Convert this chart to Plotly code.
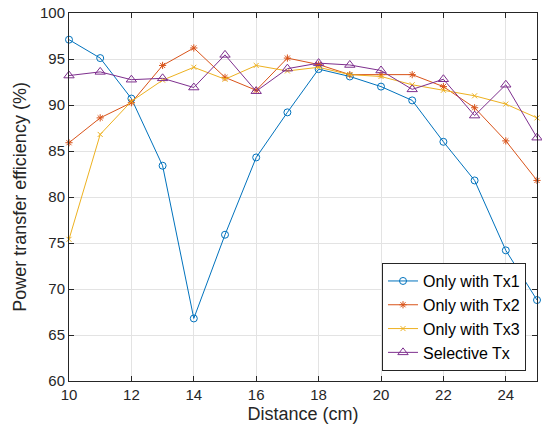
import plotly.graph_objects as go

distance = [10, 11, 12, 13, 14, 15, 16, 17, 18, 19, 20, 21, 22, 23, 24, 25]
tx1 = [97.1, 95.1, 90.7, 83.4, 66.8, 75.9, 84.3, 89.2, 93.9, 93.1, 92.0, 90.5, 86.0, 81.8, 74.2, 68.8]
tx2 = [85.9, 88.6, 90.25, 94.3, 96.2, 93.0, 91.6, 95.1, 94.4, 93.3, 93.3, 93.3, 92.0, 89.7, 86.1, 81.8]
tx3 = [75.4, 86.8, 90.4, 92.7, 94.1, 92.8, 94.3, 93.7, 94.1, 93.3, 93.1, 92.2, 91.6, 91.0, 90.1, 88.6]
selective = [93.2, 93.6, 92.75, 92.9, 91.9, 95.45, 91.5, 93.95, 94.55, 94.35, 93.75, 91.7, 92.8, 88.85, 92.2, 86.45]

names = ["Only with Tx1", "Only with Tx2", "Only with Tx3", "Selective Tx"]
series = [tx1, tx2, tx3, selective]
colors = ["#0072BD", "#D95319", "#EDB120", "#7E2F8E"]
symbols = ["circle-open", "asterisk-open", "x-thin-open", "triangle-up-open"]
sizes = [7, 6, 5, 9]

fig = go.Figure()
for n, s, c, sym, sz in zip(names, series, colors, symbols, sizes):
    fig.add_trace(go.Scatter(
        x=distance, y=s, name=n, mode="lines+markers",
        line=dict(color=c, width=1),
        marker=dict(symbol=sym, size=sz, color=c, line=dict(color=c, width=1)),
        cliponaxis=False,
    ))

axis_common = dict(
    showline=True, linecolor="#262626", linewidth=1, mirror="ticks",
    ticks="inside", ticklen=5, tickcolor="#262626",
    showgrid=True, gridcolor="#e3e3e3", gridwidth=1,
    zeroline=False,
    tickfont=dict(family="Liberation Sans, Arial", size=15, color="#262626"),
)

fig.update_layout(
    width=542, height=432,
    margin=dict(l=69, r=5, t=13, b=51),
    paper_bgcolor="white", plot_bgcolor="white",
    font=dict(family="Liberation Sans, Arial", color="#262626"),
    xaxis=dict(range=[10, 25], tickvals=[10, 12, 14, 16, 18, 20, 22, 24],
               title=dict(text="Distance (cm)", font=dict(size=18), standoff=5),
               **axis_common),
    yaxis=dict(range=[60, 100], tickvals=[60, 65, 70, 75, 80, 85, 90, 95, 100],
               title=dict(text="Power transfer efficiency (%)", font=dict(size=18), standoff=8),
               **axis_common),
    legend=dict(
        x=0.9765, y=0.027, xanchor="right", yanchor="bottom",
        bgcolor="white", bordercolor="#262626", borderwidth=1,
        font=dict(size=16, color="#000000"),
        tracegroupgap=0, itemsizing="trace",
    ),
    showlegend=True,
)

fig.write_html("out.html")
